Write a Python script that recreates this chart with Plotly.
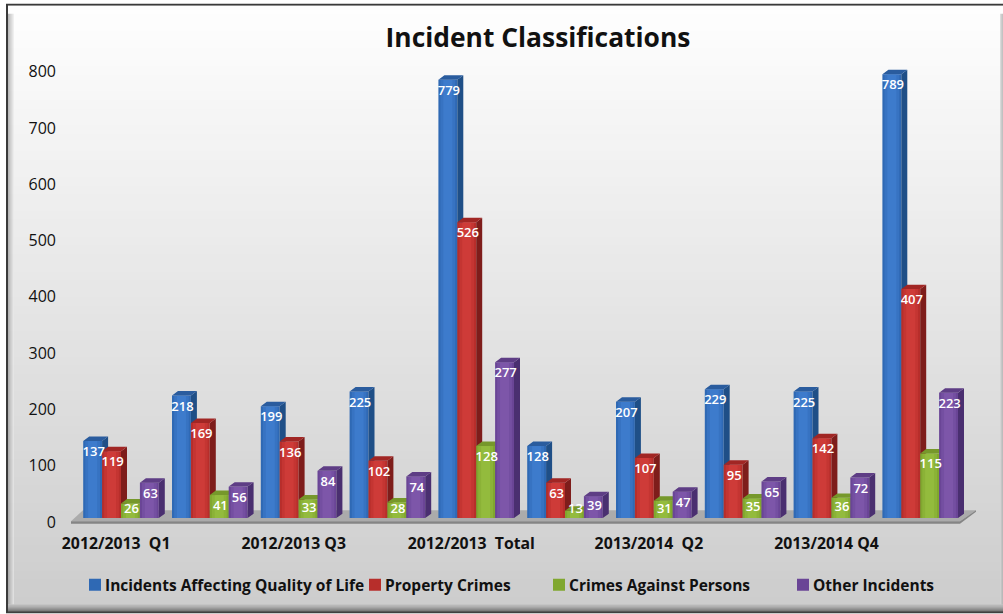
import plotly.graph_objects as go

W, H = 1003, 614

tick_labels = ["2012/2013\u00a0\u00a0Q1", "", "2012/2013 Q3", "", "2012/2013\u00a0\u00a0Total",
               "", "2013/2014\u00a0\u00a0Q2", "", "2013/2014 Q4", ""]
y_ticks = [0, 100, 200, 300, 400, 500, 600, 700, 800]
series_names = ["Incidents Affecting Quality of Life", "Property Crimes",
                "Crimes Against Persons", "Other Incidents"]
quality_of_life = [137, 218, 199, 225, 779, 128, 207, 229, 225, 789]
property_crimes = [119, 169, 136, 102, 526, 63, 107, 95, 142, 407]
against_persons = [26, 41, 33, 28, 128, 13, 31, 35, 36, 115]
other_incidents = [63, 56, 84, 74, 277, 39, 47, 65, 72, 223]
all_values = [quality_of_life, property_crimes, against_persons, other_incidents]

front = ["#2F69B4", "#B72E2B", "#80A72F", "#6A4596"]
light = ["#4483D6", "#D8423E", "#9CC443", "#855EB2"]
side = ["#1F4F87", "#7E1D1B", "#5F7D22", "#4A2F70"]
top = ["#2A5C9E", "#A12624", "#76982B", "#5E3D85"]

# axis geometry (pixels)
PITCH = 88.8
X0_PX = 121.0          # centre of first group
BASE_PX = 521.5
PX_PER_UNIT = 0.5663
LEFT, RIGHT = 60, 985
BOTTOM = 532
TOP_PX = 60
BAR_PX = 18.9
DX = 6 / PITCH
DY = 4.5 / PX_PER_UNIT
BW = BAR_PX / PITCH

xrange_ = [(LEFT - X0_PX) / PITCH, (RIGHT - X0_PX) / PITCH]
yrange_ = [(BASE_PX - BOTTOM) / PX_PER_UNIT, (BASE_PX - TOP_PX) / PX_PER_UNIT]
xdom = [LEFT / W, RIGHT / W]
ydom = [1 - BOTTOM / H, 1 - TOP_PX / H]


def px(x):
    return x / W


def py(y):
    return 1 - (y + (y - 50) * 0.0058) / H


def rect(x0, y0, x1, y1, color):
    return dict(type="rect", xref="paper", yref="paper", layer="below",
                x0=px(x0), x1=px(x1), y0=py(y0), y1=py(y1),
                fillcolor=color, line_width=0)


def lerp(c0, c1, t):
    return "rgb(%d,%d,%d)" % tuple(round(a + (b - a) * t) for a, b in zip(c0, c1))


shapes = []
# page frame
shapes.append(rect(6, 4, W, 611 + 3, "#3a3a3a"))
shapes.append(rect(8, 6, W, 612, "#f6f6f6"))
# vertical background gradient
steps = 70
for i in range(steps):
    y0 = 6 + i * (606 - 6) / steps
    y1 = 6 + (i + 1) * (606 - 6) / steps + 1
    t = i / (steps - 1)
    c = lerp((254, 254, 254), (205, 205, 205), t)
    shapes.append(rect(8, y0, W, y1, c))
# bevels
for k, col in enumerate(["#9a9a9a", "#ababab", "#bbbbbb", "#c9c9c9", "#d8d8d8", "#e8e8e8"]):
    shapes.append(dict(type="rect", xref="paper", yref="paper", layer="below",
                       x0=px(8 + k), x1=px(9 + k), y0=py(606), y1=py(14),
                       fillcolor=col, opacity=0.65, line_width=0))
for k, col in enumerate(["#d2d2d2", "#c0c0c0", "#b4b4b4"]):
    shapes.append(dict(type="rect", xref="paper", yref="paper", layer="below",
                       x0=px(1000 + k), x1=px(1001 + k), y0=py(606), y1=py(14),
                       fillcolor=col, opacity=0.8, line_width=0))
for k, col in enumerate(["#c2c2c2", "#b2b2b2", "#a2a2a2", "#929292", "#828282", "#727272", "#626262", "#555555"]):
    shapes.append(rect(8, 605 + k, W, 606 + k, col))

# floor
floor_top = [(71, 522), (83, 511), (976, 511), (960, 522)]
floor_front = [(71, 522), (960, 522), (976, 511), (976, 512.5), (960, 524.5), (71, 524.5)]
for pts, col in ((floor_top, "#ababab"), (floor_front, "#858585")):
    path = "M " + " L ".join(f"{px(x):.5f},{py(y):.5f}" for x, y in pts) + " Z"
    shapes.append(dict(type="path", xref="paper", yref="paper", layer="below",
                       path=path, fillcolor=col, line_width=0))

fig = go.Figure()
for s, (name, vals) in enumerate(zip(series_names, all_values)):
    ax = "" if s == 0 else str(s + 1)
    xa, ya = "x" + ax, "y" + ax
    offs = (s - 1.5) * BW
    xs = [i + offs for i in range(len(vals))]
    # right-hand side and top faces, built from the values
    sx, sy, tx, ty = [], [], [], []
    for x, v in zip(xs, vals):
        r, l = x + BW / 2, x - BW / 2
        sx += [r, r + DX, r + DX, r, r, None]
        sy += [0, DY, v + DY, v, 0, None]
        tx += [l, r, r + DX, l + DX, l, None]
        ty += [v, v, v + DY, v + DY, v, None]
    fig.add_trace(go.Scatter(x=sx, y=sy, mode="lines", fill="toself", fillcolor=side[s],
                             line=dict(width=0), showlegend=False, hoverinfo="skip",
                             xaxis=xa, yaxis=ya))
    fig.add_trace(go.Scatter(x=tx, y=ty, mode="lines", fill="toself", fillcolor=top[s],
                             line=dict(width=0), showlegend=False, hoverinfo="skip",
                             xaxis=xa, yaxis=ya))
    fig.add_trace(go.Bar(x=xs, y=vals, width=BW, name=name, marker=dict(color=front[s], line_width=0),
                         legend="legend" + ("" if s == 0 else str(s + 1)),
                         xaxis=xa, yaxis=ya))
    # soft central highlight on the front faces
    for frac, op in ((0.78, 0.4), (0.48, 0.5)):
        fig.add_trace(go.Bar(x=xs, y=vals, width=BW * frac, marker=dict(color=light[s], opacity=op, line_width=0),
                             showlegend=False, hoverinfo="skip", xaxis=xa, yaxis=ya))

# value labels, on top of all the bars
lx, ly, lt = [], [], []
for s, vals in enumerate(all_values):
    offs = (s - 1.5) * BW
    for i, v in enumerate(vals):
        lx.append(i + offs + 0.012)
        ly.append(max(v - 21, v / 2, 14))
        lt.append(str(v))
fig.add_trace(go.Scatter(x=lx, y=ly, text=lt, mode="text", textposition="middle center",
                         textfont=dict(family="Open Sans", size=13, color="white", weight=600),
                         showlegend=False, hoverinfo="skip", xaxis="x4", yaxis="y4", cliponaxis=False))

tick_font = dict(family="Open Sans", size=15.8, color="#111111", weight=700)
layout = dict(
    width=W, height=H, margin=dict(l=0, r=0, t=0, b=0), autosize=False,
    paper_bgcolor="white", plot_bgcolor="rgba(0,0,0,0)",
    barmode="overlay",
    shapes=shapes,
    title=dict(text="<b>Incident Classifications</b>", x=538 / W, xanchor="center",
               y=1 - 37.5 / H, yanchor="middle",
               font=dict(family="Open Sans", size=26.4, color="#111111")),
    xaxis=dict(domain=xdom, range=xrange_, showgrid=False, zeroline=False, showline=False,
               tickmode="array", tickvals=[i - 0.055 for i in range(10)], ticktext=tick_labels,
               ticks="", tickfont=tick_font, ticklabelstandoff=4, tickangle=0),
    # the reference draws its scale labels slightly off the 3D bars' baseline
    yaxis=dict(domain=ydom, range=yrange_, showgrid=False, zeroline=False, showline=False,
               tickmode="array", tickvals=[v - 6.8 for v in y_ticks],
               ticktext=[str(v) for v in y_ticks],
               ticks="", ticklabelstandoff=3,
               tickfont=dict(family="Open Sans", size=16, color="#111111")),
)
for s in range(2, 5):
    layout[f"xaxis{s}"] = dict(domain=xdom, range=xrange_, overlaying="x", matches="x", visible=False)
    layout[f"yaxis{s}"] = dict(domain=ydom, range=yrange_, overlaying="y", matches="y", visible=False)

legend_x = [79, 359, 543, 787]
for s, lxp in enumerate(legend_x):
    key = "legend" + ("" if s == 0 else str(s + 1))
    layout[key] = dict(x=px(lxp - 14), y=1 - 589 / H, xanchor="left", yanchor="middle",
                       orientation="h", bgcolor="rgba(0,0,0,0)", borderwidth=0,
                       itemclick=False, itemdoubleclick=False,
                       font=dict(family="Open Sans", size=15.5, color="#111111", weight=700))
fig.update_layout(**layout)

fig.write_html("out.html", config=dict(displayModeBar=False),
               post_script="document.documentElement.style.margin='0';document.body.style.margin='0';"
                           "document.documentElement.style.overflow='hidden';document.body.style.overflow='hidden';"
                           "document.querySelectorAll('.legendpoints')"
                           ".forEach(function(e){e.setAttribute('transform','translate(10,0)');});")
